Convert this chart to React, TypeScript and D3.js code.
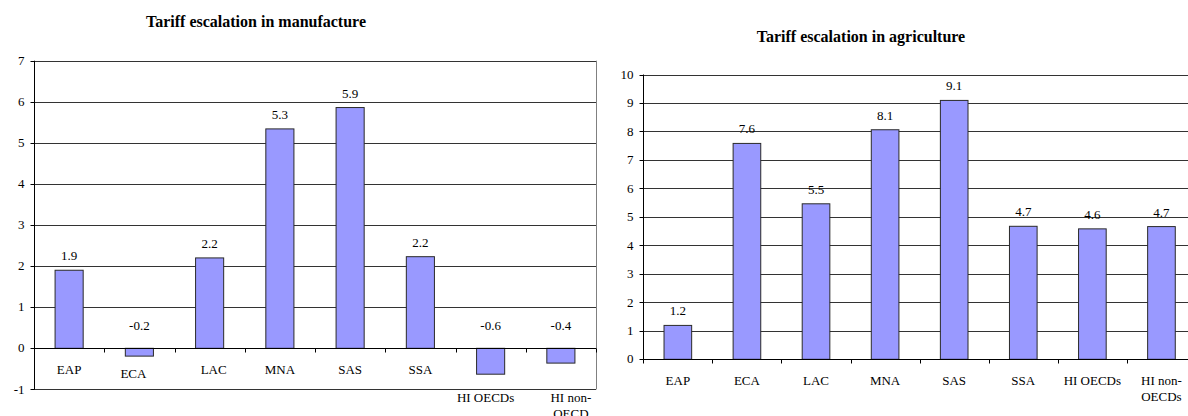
import * as d3 from "d3"

// Tariff escalation by region (percentage points)
const manufactureCategories = ["EAP", "ECA", "LAC", "MNA", "SAS", "SSA", "HI OECDs", "HI non-OECD"]
const manufactureValues = [1.9, -0.19, 2.2, 5.34, 5.86, 2.23, -0.63, -0.36]
const manufactureTicks = [-1, 0, 1, 2, 3, 4, 5, 6, 7]

const agricultureCategories = ["EAP", "ECA", "LAC", "MNA", "SAS", "SSA", "HI OECDs", "HI non-OECDs"]
const agricultureValues = [1.19, 7.58, 5.46, 8.06, 9.09, 4.67, 4.58, 4.66]
const agricultureTicks = [0, 1, 2, 3, 4, 5, 6, 7, 8, 9, 10]

// Excel nudged some category labels out of the way of the negative bars
const manufactureLabelNudge = [
  [0, 0],
  [-6, 4],
  [4, 0],
  [0, 0],
  [0, 0],
  [0, 0],
  [-5, 28],
  [10, 28],
]
const agricultureLabelNudge = agricultureCategories.map(() => [0, 0])

const FONT = "Liberation Serif"
const BAR_FILL = "#9999ff"

interface PanelProps {
  title: string
  titleX: number
  titleY: number
  categories: string[]
  values: number[]
  ticks: number[]
  nudge: number[][]
  left: number
  right: number
  top: number
  bottom: number
  rightBorder: boolean
}

const snap = (v: number) => Math.round(v) + 0.5

function Panel(p: PanelProps) {
  const x = d3
    .scaleBand()
    .domain(p.categories)
    .range([p.left, p.right])
    .paddingInner(0.6)
    .paddingOuter(0.3)
  const step = x.step()

  const y = d3
    .scaleLinear()
    .domain([p.ticks[0], p.ticks[p.ticks.length - 1]])
    .range([p.bottom, p.top])

  const y0 = snap(y(0))
  const axisX = snap(p.left)

  return (
    <g fontFamily={FONT} fill="#000">
      <text x={p.titleX} y={p.titleY} textAnchor="middle" fontSize={16} fontWeight="bold">
        {p.title}
      </text>

      {/* grid lines */}
      {p.ticks.map((t) => (
        <line key={"g" + t} x1={p.left} x2={p.right} y1={snap(y(t))} y2={snap(y(t))} stroke="#333" />
      ))}
      {p.rightBorder && (
        <line
          x1={snap(p.right)}
          x2={snap(p.right)}
          y1={y(p.ticks[p.ticks.length - 1])}
          y2={y(p.ticks[0])}
          stroke="#808080"
        />
      )}

      {/* bars */}
      {p.values.map((v, i) => (
        <rect
          key={"b" + i}
          x={x(p.categories[i])}
          width={x.bandwidth()}
          y={y(Math.max(0, v))}
          height={Math.abs(y(v) - y(0))}
          fill={BAR_FILL}
          stroke="#2a2a2a"
          strokeWidth={1}
        />
      ))}

      {/* value labels */}
      {p.values.map((v, i) => (
        <text
          key={"v" + i}
          x={(x(p.categories[i]) || 0) + x.bandwidth() / 2}
          y={v >= 0 ? y(v) - 10 : y(0) - 18}
          textAnchor="middle"
          fontSize={13}
        >
          {v.toFixed(1)}
        </text>
      ))}

      {/* value axis */}
      <line x1={axisX} x2={axisX} y1={y(p.ticks[p.ticks.length - 1])} y2={y(p.ticks[0])} stroke="#000" />
      {p.ticks.map((t) => (
        <g key={"t" + t}>
          <line x1={axisX - 4} x2={axisX} y1={snap(y(t))} y2={snap(y(t))} stroke="#000" />
          <text x={axisX - 10} y={y(t)} dy="0.32em" textAnchor="end" fontSize={13}>
            {t}
          </text>
        </g>
      ))}

      {/* category axis at zero */}
      <line x1={p.left} x2={p.right} y1={y0} y2={y0} stroke="#000" />
      {d3.range(p.categories.length + 1).map((i) => (
        <line
          key={"c" + i}
          x1={snap(p.left + i * step)}
          x2={snap(p.left + i * step)}
          y1={y0}
          y2={y0 + 4}
          stroke="#000"
        />
      ))}
      {p.categories.map((c, i) => {
        const lines = c.split(/(?<=-)/)
        const cx = (x(c) || 0) + x.bandwidth() / 2 + p.nudge[i][0]
        const cy = y(0) + 25.5 + p.nudge[i][1]
        return (
          <text key={"l" + c} x={cx} y={cy} textAnchor="middle" fontSize={13}>
            {lines.map((s, j) => (
              <tspan key={j} x={cx} dy={j === 0 ? 0 : 16}>
                {s}
              </tspan>
            ))}
          </text>
        )
      })}
    </g>
  )
}

export default function App() {
  return (
    <svg width={1188} height={416} style={{ position: "absolute", left: 0, top: 0, display: "block" }}>
      <rect width={1188} height={416} fill="#fff" />
      <Panel
        title="Tariff escalation in manufacture"
        titleX={256}
        titleY={27}
        categories={manufactureCategories}
        values={manufactureValues}
        ticks={manufactureTicks}
        nudge={manufactureLabelNudge}
        left={34}
        right={596}
        top={60.7}
        bottom={389.4}
        rightBorder={true}
      />
      <Panel
        title="Tariff escalation in agriculture"
        titleX={861}
        titleY={42}
        categories={agricultureCategories}
        values={agricultureValues}
        ticks={agricultureTicks}
        nudge={agricultureLabelNudge}
        left={643.3}
        right={1196}
        top={74.5}
        bottom={359.3}
        rightBorder={false}
      />
    </svg>
  )
}
